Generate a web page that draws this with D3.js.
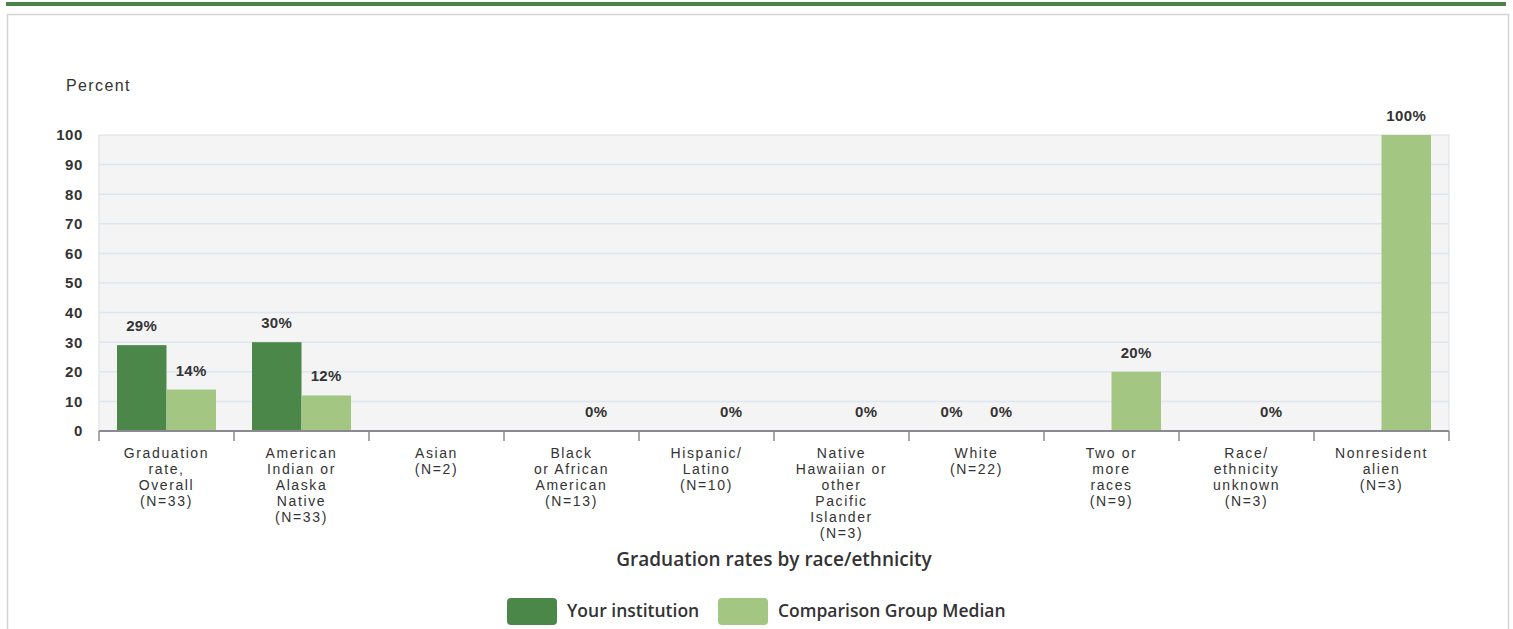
<!DOCTYPE html>
<html lang="en">
<head>
  <meta charset="UTF-8" />
  <script src="https://d3js.org/d3.v7.min.js"></script>
  <title>Graduation rates by race/ethnicity</title>
  <style>
    body { margin: 0; background: #fff; }
    text { fill: #333; }
  </style>
</head>
<body>
<script type="text/javascript">
// chart values
var categories = [
  "Graduation\nrate,\nOverall\n(N=33)",
  "American\nIndian or\nAlaska\nNative\n(N=33)",
  "Asian\n(N=2)",
  "Black\nor African\nAmerican\n(N=13)",
  "Hispanic/\nLatino\n(N=10)",
  "Native\nHawaiian or\nother\nPacific\nIslander\n(N=3)",
  "White\n(N=22)",
  "Two or\nmore\nraces\n(N=9)",
  "Race/\nethnicity\nunknown\n(N=3)",
  "Nonresident\nalien\n(N=3)"
];
var seriesNames = ["Your institution", "Comparison Group Median"];
var institution = [29, 30, null, null, null, null, 0, null, null, null];
var comparison = [14, 12, null, 0, 0, 0, 0, 20, 0, 100];
var yTicks = [0, 10, 20, 30, 40, 50, 60, 70, 80, 90, 100];
var colors = ["#4a8749", "#a3c783"];

var width = 1513, height = 629;
var margin = {top: 135, right: 64, bottom: 198, left: 99};
var plotW = width - margin.left - margin.right;
var plotH = height - margin.top - margin.bottom;

var svg = d3.select("body").append("svg").attr("width", width).attr("height", height);

// header bar and card
svg.append("rect").attr("x", 6).attr("y", 2).attr("width", 1500).attr("height", 4).attr("fill", "#4a8349");
svg.append("rect").attr("x", 7.5).attr("y", 14.5).attr("width", 1501).attr("height", 640)
  .attr("fill", "#fff").attr("stroke", "#d4d4d4").attr("stroke-width", 1.5);

var g = svg.append("g").attr("transform", "translate(" + margin.left + "," + margin.top + ")");

var x0 = d3.scaleBand().domain(d3.range(categories.length)).range([0, plotW]);
var x1 = d3.scaleBand().domain([0, 1]).range([0, x0.bandwidth()]).paddingOuter(0.364);
var y = d3.scaleLinear().domain([0, 100]).range([plotH, 0]);

g.append("rect").attr("width", plotW).attr("height", plotH)
  .attr("fill", "#f4f4f4").attr("stroke", "#d9dfe6");

g.selectAll(".grid").data(yTicks.slice(1, -1)).enter().append("line")
  .attr("x1", 0).attr("x2", plotW)
  .attr("y1", function(d){ return y(d); }).attr("y2", function(d){ return y(d); })
  .attr("stroke", "#dce6f0").attr("stroke-width", 1.5);

// y axis
var yAxis = g.append("g").call(d3.axisLeft(y).tickValues(yTicks).tickSize(0).tickPadding(16));
yAxis.select(".domain").remove();
yAxis.selectAll("text").attr("font-family", "Liberation Sans, Arial, sans-serif")
  .attr("font-size", 15).attr("font-weight", "bold").attr("letter-spacing", 0.6).style("fill", "#333");

svg.append("text").attr("x", 66).attr("y", 91).text("Percent")
  .attr("font-family", "Liberation Sans, Arial, sans-serif").attr("font-size", 16).attr("letter-spacing", 1.4);

// bars
var rows = categories.map(function(c, i){ return [institution[i], comparison[i]]; });
var groups = g.selectAll(".grp").data(rows).enter().append("g")
  .attr("transform", function(d, i){ return "translate(" + x0(i) + ",0)"; });

groups.selectAll("rect").data(function(d){ return d.map(function(v, j){ return {v: v, j: j}; }); })
  .enter().filter(function(d){ return d.v !== null; }).append("rect")
  .attr("x", function(d){ return x1(d.j); })
  .attr("width", x1.bandwidth())
  .attr("y", function(d){ return y(d.v); })
  .attr("height", function(d){ return plotH - y(d.v); })
  .attr("fill", function(d){ return colors[d.j]; });

groups.selectAll(".lbl").data(function(d){ return d.map(function(v, j){ return {v: v, j: j}; }); })
  .enter().filter(function(d){ return d.v !== null; }).append("text")
  .attr("x", function(d){ return x1(d.j) + x1.bandwidth() / 2; })
  .attr("y", function(d){ return y(d.v) - 14; })
  .attr("text-anchor", "middle")
  .attr("font-family", "Liberation Sans, Arial, sans-serif").attr("font-size", 15)
  .attr("font-weight", "bold").attr("letter-spacing", 0.4)
  .text(function(d){ return d.v + "%"; });

// x axis
g.append("line").attr("x1", 0).attr("x2", plotW).attr("y1", plotH).attr("y2", plotH)
  .attr("stroke", "#8a8a90").attr("stroke-width", 2);
g.selectAll(".tick-x").data(d3.range(categories.length + 1)).enter().append("line")
  .attr("x1", function(i){ return i * x0.step(); }).attr("x2", function(i){ return i * x0.step(); })
  .attr("y1", plotH).attr("y2", plotH + 10)
  .attr("stroke", "#8a8a90").attr("stroke-width", 1.5);

var catText = g.selectAll(".cat").data(categories).enter().append("text")
  .attr("text-anchor", "middle")
  .attr("font-family", "Liberation Sans, Arial, sans-serif").attr("font-size", 14)
  .attr("letter-spacing", 1.6)
  .attr("transform", function(d, i){ return "translate(" + (x0(i) + x0.bandwidth() / 2) + "," + (plotH + 27) + ")"; });
catText.selectAll("tspan").data(function(d){ return d.split("\n"); }).enter().append("tspan")
  .attr("x", 0).attr("dy", function(d, i){ return i ? 16 : 0; }).text(function(d){ return d; });

svg.append("text").attr("x", margin.left + plotW / 2).attr("y", 566).attr("text-anchor", "middle")
  .attr("font-family", "Open Sans, sans-serif").attr("font-size", 19).attr("font-weight", 600)
  .text("Graduation rates by race/ethnicity");

// legend
var legX = [507, 718];
var leg = svg.selectAll(".leg").data(seriesNames).enter().append("g")
  .attr("transform", function(d, i){ return "translate(" + legX[i] + ",598)"; });
leg.append("rect").attr("width", 50).attr("height", 27).attr("rx", 4)
  .attr("fill", function(d, i){ return colors[i]; });
leg.append("text").attr("x", 60).attr("y", 19).text(function(d){ return d; })
  .attr("font-family", "Open Sans, sans-serif").attr("font-size", 17.5).attr("font-weight", 600);
</script>
</body>
</html>
